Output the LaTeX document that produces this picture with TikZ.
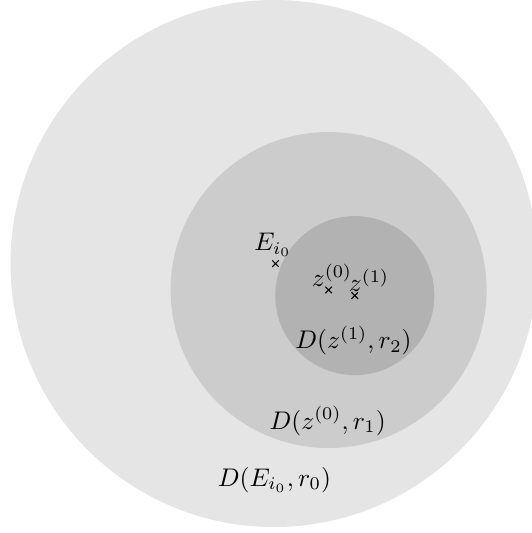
\documentclass[tikz,border=0pt]{standalone}
\usetikzlibrary{shapes.misc}
\begin{document}
\begin{tikzpicture}[x=0.0138cm,y=-0.0138cm,
  xmark/.style={cross out,draw=black,line width=0.45pt,minimum size=2.1pt,inner sep=0pt},
  lbl/.style={inner sep=0pt}]
\useasboundingbox (0,0) rectangle (532,533);
\begin{scope}
\clip (0,0) rectangle (532,533);
\fill[gray!20] (274,263.5) circle (263.5);
\fill[gray!40] (328.6,290) circle (158);
\fill[gray!60] (354.8,295.6) circle (79.5);
\end{scope}
\node[xmark] (E) at (275.5,263.6) {};
\node[xmark] (z0) at (328.6,290) {};
\node[xmark] (z1) at (354.8,295.6) {};
\node[lbl] (lE) at (273,245) {$E_{i_0}$};
\node[lbl] (lz0) at (332,275) {$z^{(0)}$};
\node[lbl] (lz1) at (369,280) {$z^{(1)}$};
\node[lbl] (d2) at (353.5,340.5) {$D(z^{(1)},r_2)$};
\node[lbl] (d1) at (327.7,421) {$D(z^{(0)},r_1)$};
\node[lbl] (d0) at (274.5,479.7) {$D(E_{i_0},r_0)$};
\end{tikzpicture}
\end{document}
